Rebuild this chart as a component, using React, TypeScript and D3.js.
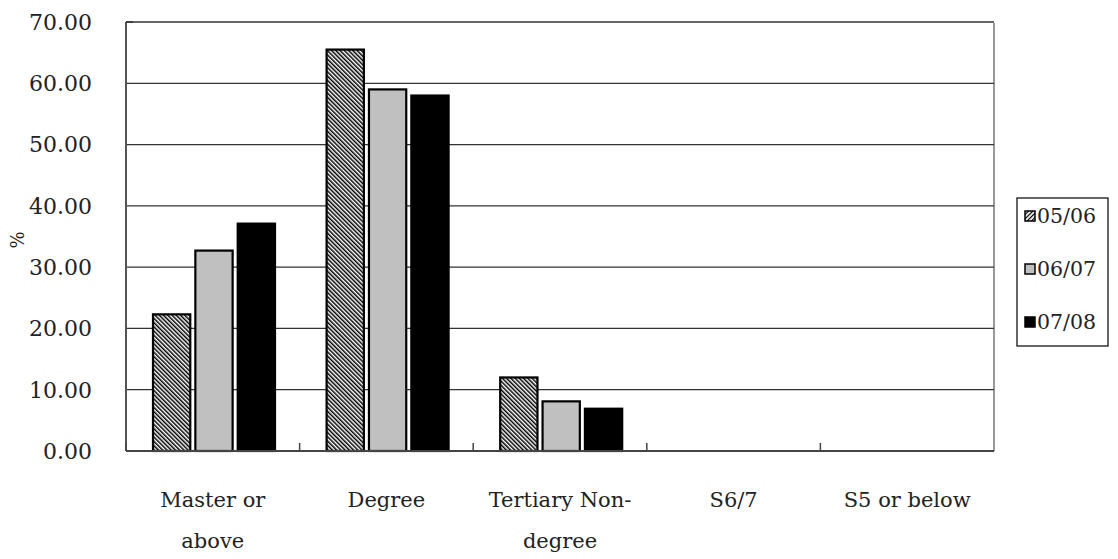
import * as d3 from "d3";

const W = 1118;
const H = 559;
const PLOT = { left: 126, right: 994, top: 22, bottom: 451 };
const FONT = "DejaVu Serif";

// data
const categories = ["Master or above", "Degree", "Tertiary Non-degree", "S6/7", "S5 or below"];
const categoryLines = [["Master or", "above"], ["Degree"], ["Tertiary Non-", "degree"], ["S6/7"], ["S5 or below"]];
const seriesNames = ["05/06", "06/07", "07/08"];
const values0506 = [22.3, 65.5, 12.0, 0, 0];
const values0607 = [32.7, 59.0, 8.1, 0, 0];
const values0708 = [37.1, 58.0, 6.9, 0, 0];
const yTicks = [0, 10, 20, 30, 40, 50, 60, 70];

const seriesValues = [values0506, values0607, values0708];
const fills = ["url(#hatch)", "#c0c0c0", "#000000"];

const textStyle = { fontFamily: FONT };

export default function App() {
  const xScale = d3.scaleBand().domain(categories).range([PLOT.left, PLOT.right]).padding(0);
  const xInner = d3
    .scaleBand()
    .domain(seriesNames)
    .range([27, 27 + 122])
    .paddingInner(0.12);
  const yScale = d3.scaleLinear().domain([0, 70]).range([PLOT.bottom, PLOT.top]);

  // bars, skipped when the value is zero
  const bars = seriesNames.flatMap((s, si) =>
    categories.map((c, ci) => {
      const v = seriesValues[si][ci];
      if (!v) return null;
      const x = (xScale(c) ?? 0) + (xInner(s) ?? 0);
      return (
        <rect
          key={s + c}
          x={x}
          y={yScale(v)}
          width={xInner.bandwidth()}
          height={yScale(0) - yScale(v)}
          fill={fills[si]}
          stroke="#000"
          strokeWidth={2.2}
        />
      );
    })
  );

  return (
    <svg
      width={W}
      height={H}
      style={{ position: "absolute", left: 0, top: 0, background: "#fff" }}
    >
      <defs>
        <pattern id="hatch" width={3} height={3} patternUnits="userSpaceOnUse" patternTransform="rotate(-45)">
          <rect width={3} height={3} fill="#fff" />
          <line x1={0.75} y1={0} x2={0.75} y2={3} stroke="#000" strokeWidth={1.5} />
        </pattern>
        <pattern id="hatchSmall" width={3} height={3} patternUnits="userSpaceOnUse" patternTransform="rotate(45)">
          <rect width={3} height={3} fill="#fff" />
          <line x1={0} y1={0} x2={0} y2={3} stroke="#000" strokeWidth={2.4} />
        </pattern>
      </defs>

      {/* grid lines */}
      {yTicks.map((t) => (
        <line
          key={t}
          x1={PLOT.left}
          x2={PLOT.right}
          y1={yScale(t)}
          y2={yScale(t)}
          stroke="#333"
          strokeWidth={1.3}
        />
      ))}

      {/* y labels */}
      {yTicks.map((t) => (
        <text
          key={"l" + t}
          x={92}
          y={yScale(t)}
          dy="0.36em"
          textAnchor="end"
          style={textStyle}
          fontSize={22}
          fill="#222"
        >
          {t.toFixed(2)}
        </text>
      ))}

      {bars}

      {/* axes */}
      <line x1={PLOT.left} x2={PLOT.left} y1={PLOT.top} y2={PLOT.bottom} stroke="#555" strokeWidth={2} />
      <line x1={PLOT.left} x2={PLOT.right} y1={PLOT.bottom} y2={PLOT.bottom} stroke="#444" strokeWidth={2} />
      <line x1={PLOT.right} x2={PLOT.right} y1={PLOT.top + 1} y2={PLOT.bottom} stroke="#333" strokeWidth={1} />
      <line x1={PLOT.left} x2={PLOT.left + 7} y1={PLOT.top} y2={PLOT.top} stroke="#333" strokeWidth={1.5} />
      {categories.map((c) => (
        <line
          key={"t" + c}
          x1={xScale(c) ?? 0}
          x2={xScale(c) ?? 0}
          y1={PLOT.bottom}
          y2={PLOT.bottom - 8}
          stroke="#444"
          strokeWidth={1.5}
        />
      ))}

      {/* category labels */}
      {categories.map((c, i) => (
        <text
          key={"c" + c}
          x={(xScale(c) ?? 0) + xScale.bandwidth() / 2}
          y={507}
          textAnchor="middle"
          style={textStyle}
          fontSize={21}
          fill="#222"
        >
          {categoryLines[i].map((line, li) => (
            <tspan key={li} x={(xScale(c) ?? 0) + xScale.bandwidth() / 2} dy={li === 0 ? 0 : 41}>
              {line}
            </tspan>
          ))}
        </text>
      ))}

      {/* y title */}
      <text
        transform="translate(24,240) rotate(-90)"
        textAnchor="middle"
        style={textStyle}
        fontSize={18}
        fill="#222"
      >
        %
      </text>

      {/* legend */}
      <rect x={1017} y={198} width={91} height={148} fill="#fff" stroke="#000" strokeWidth={1.2} />
      {seriesNames.map((s, i) => {
        const cy = 216 + i * 53;
        return (
          <g key={"lg" + s}>
            <rect
              x={1025}
              y={cy - 5}
              width={10}
              height={10}
              fill={i === 0 ? "url(#hatchSmall)" : fills[i]}
              stroke="#000"
              strokeWidth={1.5}
            />
            <text x={1037} y={cy} dy="0.36em" style={textStyle} fontSize={20.5} fill="#222">
              {s}
            </text>
          </g>
        );
      })}
    </svg>
  );
}
